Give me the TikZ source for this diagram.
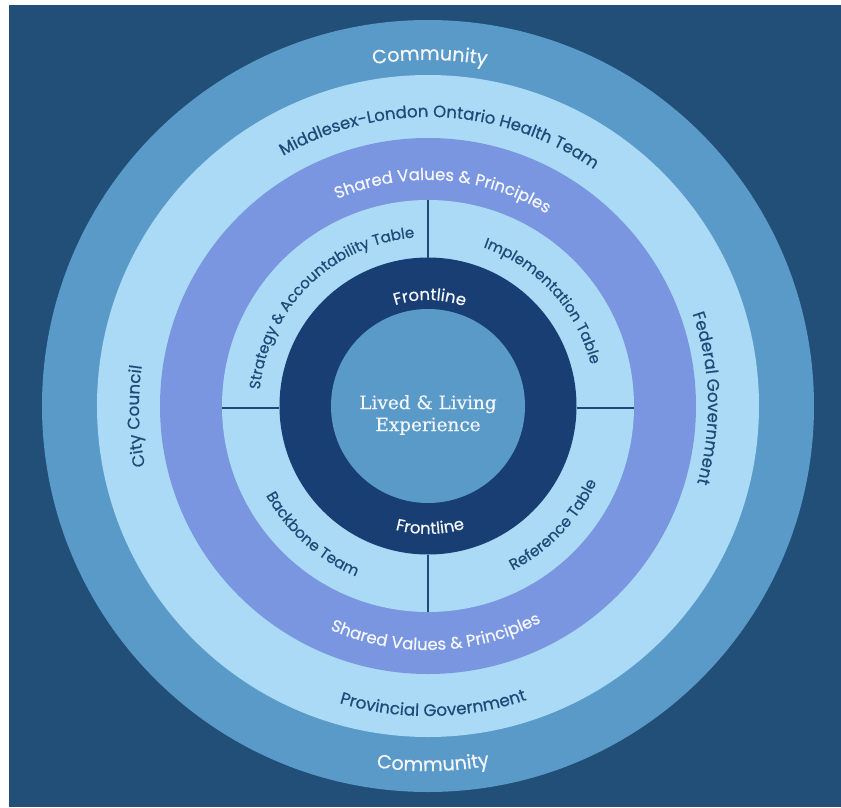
\documentclass[tikz,border=0pt]{standalone}
\usepackage{fontspec}
\usetikzlibrary{decorations.text}
\newfontfamily\ringfont[FakeBold=0.5]{Poppins}
\newfontfamily\corefont[FakeBold=0.4]{DejaVu Serif}
\definecolor{bgblue}{HTML}{214F78}
\definecolor{midblue}{HTML}{5A9AC8}
\definecolor{paleblue}{HTML}{AADAF5}
\definecolor{periwinkle}{HTML}{7A96E1}
\definecolor{deepnavy}{HTML}{183E74}
\definecolor{inkblue}{HTML}{1D4A78}
\definecolor{softwhite}{HTML}{F4F7FC}
\tikzset{
  ring/.style={fill=#1},
  divider/.style={draw=inkblue, line width=1.3pt},
}
% label on an arc read clockwise (letters facing outward)
\newcommand{\cwlabel}[5]{%
  \path[decorate,decoration={text along path,text align=center,
    text={|\ringfont\fontsize{#3}{#3}\selectfont\color{#4}|#5}}]
    ({#2+80}:#1pt) arc[start angle={#2+80},end angle={#2-80},radius=#1pt];}
% label on an arc read counter-clockwise (letters facing the centre)
\newcommand{\ccwlabel}[5]{%
  \path[decorate,decoration={text along path,text align=center,
    text={|\ringfont\fontsize{#3}{#3}\selectfont\color{#4}|#5}}]
    ({#2-80}:#1pt) arc[start angle={#2-80},end angle={#2+80},radius=#1pt];}
\begin{document}
\begin{tikzpicture}
\useasboundingbox (-428pt,-401pt) rectangle (413pt,406pt);
\fill[white] (-428pt,-401pt) rectangle (413pt,406pt);
\fill[bgblue] (-419pt,-401pt) rectangle (413pt,401pt);

% concentric rings
\fill[ring=midblue]    (0,0) circle[radius=386pt];
\fill[ring=paleblue]   (0,0) circle[radius=331pt];
\fill[ring=periwinkle] (0,0) circle[radius=268pt];
\fill[ring=paleblue]   (0,0) circle[radius=206pt];
\fill[ring=deepnavy]   (0,0) circle[radius=148.5pt];
\fill[ring=midblue]    (0,0) circle[radius=97pt];

% quadrant dividers of the table ring
\coordinate (dTa) at (90:148.5pt);  \coordinate (dTb) at (90:206pt);
\coordinate (dBa) at (270:148.5pt); \coordinate (dBb) at (270:206pt);
\coordinate (dLa) at ([yshift=-2pt]180:148.5pt); \coordinate (dLb) at ([yshift=-2pt]180:206pt);
\coordinate (dRa) at ([yshift=-2pt]0:148.5pt);   \coordinate (dRb) at ([yshift=-2pt]0:206pt);
\draw[divider] (dTa) -- (dTb);
\draw[divider] (dBa) -- (dBb);
\draw[divider] (dLa) -- (dLb);
\draw[divider] (dRa) -- (dRb);

% ring labels
\cwlabel{346}{89.7}{19.2}{softwhite}{Community}
\ccwlabel{365}{270.8}{19.2}{softwhite}{Community}
\cwlabel{289}{87.5}{16.6}{inkblue}{Middlesex-London Ontario Health Team}
\ccwlabel{310}{271}{16.8}{inkblue}{Provincial Government}
\cwlabel{289}{182}{16.8}{inkblue}{City Council}
\cwlabel{280}{1.6}{16.8}{inkblue}{Federal Government}
\cwlabel{226}{86}{16.5}{softwhite}{Shared Values {\&} Principles}
\ccwlabel{244}{272}{16.5}{softwhite}{Shared Values {\&} Principles}
\cwlabel{169}{134.5}{15}{inkblue}{Strategy {\&} Accountability Table}
\cwlabel{168}{42.5}{15}{inkblue}{Implementation Table}
\ccwlabel{185}{228}{15.2}{inkblue}{Backbone Team}
\ccwlabel{185}{316.5}{15.4}{inkblue}{Reference Table}
\cwlabel{106}{89}{16.5}{softwhite}{Frontline}
\ccwlabel{128}{271}{16.5}{softwhite}{Frontline}

% centre
\node[text=softwhite, align=center, font=\corefont\fontsize{18.4}{22}\selectfont]
  (core) at (0,-9pt) {Lived \& Living\\Experience};
\end{tikzpicture}
\end{document}
